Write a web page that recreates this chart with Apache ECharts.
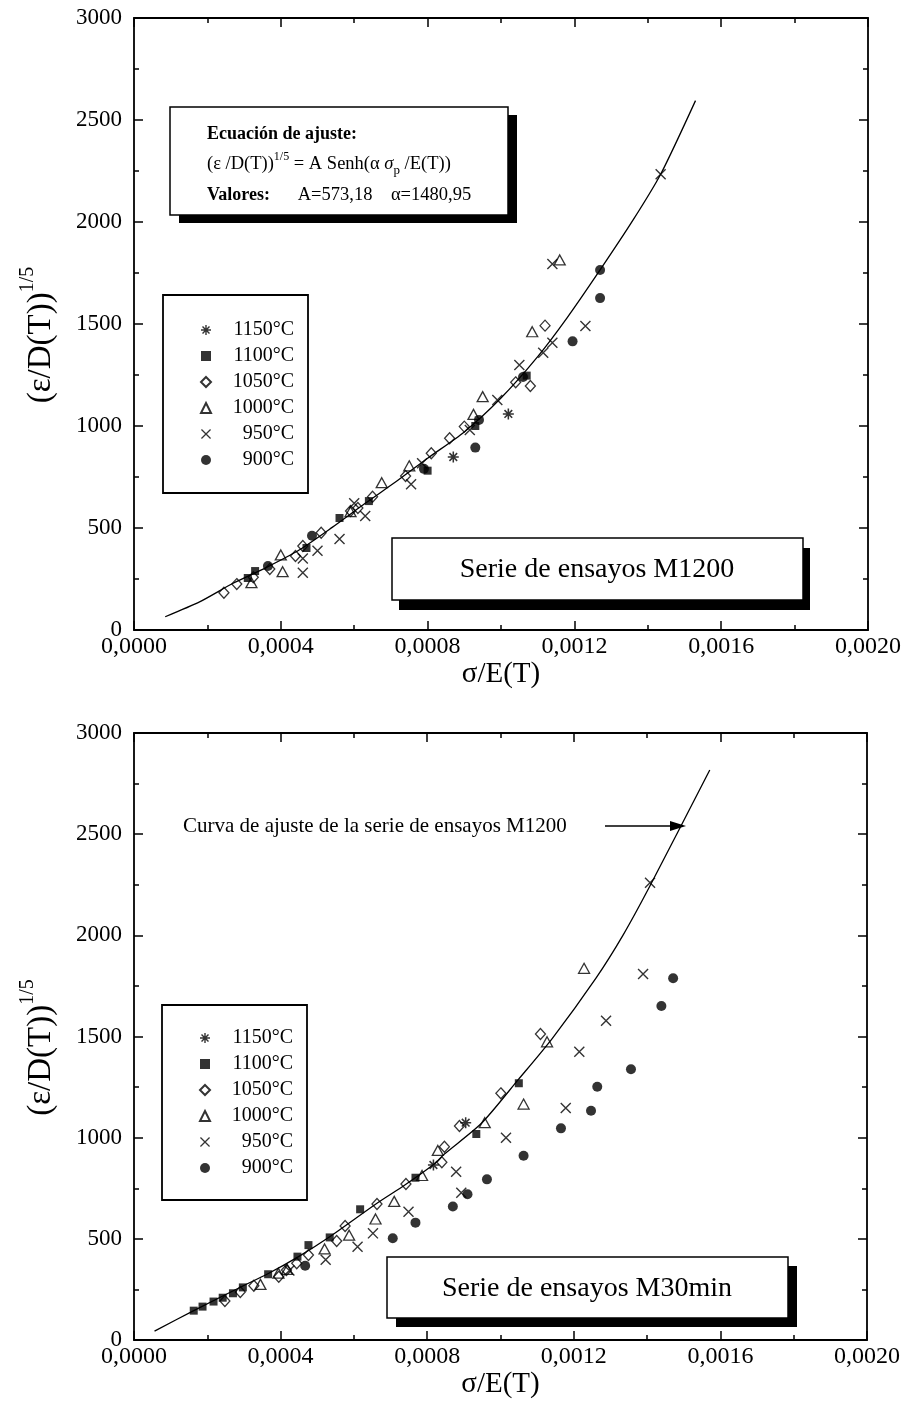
<!DOCTYPE html>
<html>
<head>
<meta charset="utf-8">
<script src="https://cdn.jsdelivr.net/npm/echarts@6/dist/echarts.min.js"></script>
<style>
  html, body { margin: 0; padding: 0; background: #fff; }
  #chart { width: 922px; height: 1419px; }
</style>
</head>
<body>
<div id="chart"></div>
<script>
const temps = ['1150°C', '1100°C', '1050°C', '1000°C', '950°C', '900°C'];

// Serie M1200 (arriba)
const m1200_1150 = [[0.00087, 848], [0.00102, 1059]];
const m1200_1100 = [[0.00031, 255], [0.00033, 289], [0.00047, 402], [0.00056, 549], [0.00064, 632], [0.0008, 781], [0.00093, 1000], [0.00107, 1247]];
const m1200_1050 = [[0.000245, 183], [0.00028, 225], [0.000325, 259], [0.00037, 299], [0.00044, 363], [0.00046, 412], [0.00051, 477], [0.00059, 583], [0.00061, 598], [0.00065, 653], [0.00074, 755], [0.00081, 866], [0.00086, 940], [0.0009, 997], [0.00104, 1214], [0.00108, 1196], [0.00112, 1492]];
const m1200_1000 = [[0.00032, 232], [0.0004, 368], [0.000405, 286], [0.00059, 580], [0.000675, 722], [0.00075, 805], [0.000925, 1057], [0.00095, 1144], [0.001085, 1462], [0.00116, 1814]];
const m1200_950 = [[0.00046, 281], [0.00046, 351], [0.0005, 389], [0.00056, 446], [0.0006, 621], [0.00063, 559], [0.000755, 714], [0.000785, 817], [0.000915, 980], [0.00099, 1127], [0.00105, 1299], [0.001115, 1359], [0.00114, 1408], [0.00123, 1490], [0.00114, 1794], [0.001435, 2234]];
const m1200_900 = [[0.000365, 314], [0.000485, 462], [0.00079, 790], [0.00093, 894], [0.00094, 1030], [0.00106, 1240], [0.001195, 1415], [0.00127, 1627], [0.00127, 1765]];
const fitTopX = [0.000085, 0.00018, 0.00027, 0.00036, 0.00045, 0.00054, 0.00063, 0.00072, 0.0008, 0.0009, 0.001, 0.0011, 0.00118, 0.00127, 0.00136, 0.001435, 0.00153];
const fitTopY = [65, 139, 229, 306, 392, 503, 621, 735, 842, 971, 1137, 1340, 1530, 1765, 2010, 2234, 2595];

// Serie M30min (abajo)
const m30_1150 = [[0.000817, 865], [0.000905, 1074]];
const m30_1100 = [[0.000163, 145], [0.000187, 165], [0.000217, 190], [0.000242, 209], [0.00027, 231], [0.000297, 260], [0.000366, 325], [0.000446, 412], [0.000476, 469], [0.000534, 507], [0.000617, 646], [0.000768, 802], [0.000934, 1018], [0.00105, 1269]];
const m30_1050 = [[0.000248, 193], [0.00029, 237], [0.000327, 268], [0.000395, 313], [0.000416, 346], [0.000444, 379], [0.000476, 420], [0.000553, 489], [0.000576, 563], [0.000663, 672], [0.000742, 771], [0.00084, 878], [0.000847, 955], [0.000888, 1058], [0.001001, 1219], [0.001109, 1512]];
const m30_1000 = [[0.000345, 275], [0.000394, 330], [0.000418, 349], [0.00052, 450], [0.000587, 518], [0.000659, 598], [0.00071, 685], [0.000786, 813], [0.000829, 937], [0.000957, 1074], [0.001063, 1166], [0.001127, 1474], [0.001228, 1837]];
const m30_950 = [[0.000424, 343], [0.000523, 397], [0.00061, 461], [0.000652, 527], [0.000749, 634], [0.000879, 832], [0.000893, 728], [0.001015, 1000], [0.001178, 1147], [0.001215, 1425], [0.001288, 1578], [0.001389, 1809], [0.001408, 2260]];
const m30_900 = [[0.000467, 367], [0.000706, 503], [0.000768, 580], [0.00087, 660], [0.00091, 720], [0.000963, 794], [0.001063, 911], [0.001165, 1046], [0.001247, 1133], [0.001264, 1252], [0.001356, 1338], [0.001439, 1651], [0.001471, 1788]];
const fitBotX = [0.000056, 0.000163, 0.000297, 0.000364, 0.000449, 0.000533, 0.000663, 0.000739, 0.000819, 0.000847, 0.000948, 0.001049, 0.001141, 0.001261, 0.001334, 0.001408, 0.001571];
const fitBotY = [44, 145, 267, 326, 412, 509, 676, 766, 870, 919, 1071, 1288, 1490, 1790, 2000, 2245, 2817];

const FONT = '"Liberation Serif", "Times New Roman", serif';
const asterisk = 'path://M-0.14,-1L0.14,-1L0.14,1L-0.14,1Z M-1,-0.14L1,-0.14L1,0.14L-1,0.14Z M-0.8,-0.6L-0.6,-0.8L0.8,0.6L0.6,0.8Z M0.6,-0.8L0.8,-0.6L-0.6,0.8L-0.8,0.6Z';
const cross = 'path://M-1,-0.82L-0.82,-1L1,0.82L0.82,1Z M0.82,-1L1,-0.82L-0.82,1L-1,0.82Z';

const open = {color: 'rgba(0,0,0,0)', borderColor: '#000', borderWidth: 1.3};
const fill = {color: '#000'};
const markStyle = {
  '1150°C': {symbol: asterisk, symbolSize: 11, itemStyle: fill},
  '1100°C': {symbol: 'rect', symbolSize: 8, itemStyle: fill},
  '1050°C': {symbol: 'diamond', symbolSize: [10, 11], itemStyle: open},
  '1000°C': {symbol: 'triangle', symbolSize: [11, 10], itemStyle: open},
  '950°C': {symbol: cross, symbolSize: 11, itemStyle: fill},
  '900°C': {symbol: 'circle', symbolSize: 10, itemStyle: fill}
};

const topSets = [m1200_1150, m1200_1100, m1200_1050, m1200_1000, m1200_950, m1200_900];
const botSets = [m30_1150, m30_1100, m30_1050, m30_1000, m30_950, m30_900];

function fmtX(v) {
  return v.toFixed(4).replace('.', ',');
}

function xAxes(gi) {
  const line = {lineStyle: {color: '#000', width: 1.8}};
  const tick = {inside: true, length: 9, lineStyle: {color: '#000', width: 1.5}};
  const minor = {show: true, splitNumber: 2, length: 5, lineStyle: {color: '#000', width: 1.5}};
  return [
    {
      gridIndex: gi, type: 'value', min: 0, max: 0.002, interval: 0.0004,
      axisLine: Object.assign({onZero: false}, line), axisTick: tick, minorTick: minor,
      splitLine: {show: false},
      axisLabel: {formatter: fmtX, fontSize: 24, color: '#000', fontFamily: FONT, margin: 5},
      name: 'σ/E(T)', nameLocation: 'middle', nameGap: 28,
      nameTextStyle: {fontSize: 29, color: '#000', fontFamily: FONT}
    },
    {
      gridIndex: gi, type: 'value', position: 'top', min: 0, max: 0.002, interval: 0.0004,
      axisLine: Object.assign({onZero: false}, line), axisTick: tick, minorTick: minor,
      splitLine: {show: false}, axisLabel: {show: false}
    }
  ];
}

function yAxes(gi) {
  const line = {lineStyle: {color: '#000', width: 1.8}};
  const tick = {inside: true, length: 9, lineStyle: {color: '#000', width: 1.5}};
  const minor = {show: true, splitNumber: 2, length: 5, lineStyle: {color: '#000', width: 1.5}};
  return [
    {
      gridIndex: gi, type: 'value', min: 0, max: 3000, interval: 500,
      axisLine: Object.assign({onZero: false}, line), axisTick: tick, minorTick: minor,
      splitLine: {show: false},
      axisLabel: {formatter: v => String(v), fontSize: 23, color: '#000', fontFamily: FONT, margin: 12},
      name: '{m|(ε/D(T))}{s|1/5}', nameLocation: 'middle', nameGap: 76,
      nameTextStyle: {
        color: '#000', fontFamily: FONT, padding: [0, 22, 0, 0],
        rich: {
          m: {fontSize: 33, lineHeight: 40, verticalAlign: 'bottom', fontFamily: FONT, color: '#000'},
          s: {fontSize: 20, lineHeight: 40, verticalAlign: 'top', fontFamily: FONT, color: '#000'}
        }
      }
    },
    {
      gridIndex: gi, type: 'value', position: 'right', min: 0, max: 3000, interval: 500,
      axisLine: Object.assign({onZero: false}, line), axisTick: tick, minorTick: minor,
      splitLine: {show: false}, axisLabel: {show: false}
    }
  ];
}

function legendFor(top, left, padTop, padBottom) {
  return {
    data: temps, orient: 'vertical', left: left, top: top,
    selectedMode: false,
    backgroundColor: '#fff', borderColor: '#000', borderWidth: 1.8,
    padding: [padTop, 14, padBottom, 37],
    itemGap: 6, itemWidth: 10, itemHeight: 10,
    formatter: n => '{t|' + n + '}',
    textStyle: {
      rich: {t: {width: 78, align: 'right', fontSize: 20, lineHeight: 20, fontFamily: FONT, color: '#000'}}
    }
  };
}

const series = [];
[topSets, botSets].forEach((sets, gi) => {
  const fx = gi === 0 ? fitTopX : fitBotX;
  const fy = gi === 0 ? fitTopY : fitBotY;
  series.push({
    type: 'line', name: 'ajuste' + gi, xAxisIndex: gi * 2, yAxisIndex: gi * 2,
    data: fx.map((x, i) => [x, fy[i]]), smooth: 0.25,
    showSymbol: false, silent: true,
    lineStyle: {color: '#000', width: 1.3}, z: 1
  });
  sets.forEach((d, k) => {
    const st = markStyle[temps[k]];
    series.push({
      type: 'scatter', name: temps[k], xAxisIndex: gi * 2, yAxisIndex: gi * 2,
      data: d, symbol: st.symbol, symbolSize: st.symbolSize, itemStyle: st.itemStyle, z: 3
    });
  });
});

function shadowBox(x, y, w, h, dx, dy) {
  return [
    {type: 'rect', shape: {x: x + dx, y: y + dy, width: w, height: h}, style: {fill: '#000'}, z: 10},
    {type: 'rect', shape: {x: x, y: y, width: w, height: h}, style: {fill: '#fff', stroke: '#000', lineWidth: 1.5}, z: 11}
  ];
}

const graphics = [].concat(
  shadowBox(170, 107, 338, 108, 9, 8),
  [
    {type: 'text', x: 207, y: 134, z: 12, style: {text: 'Ecuación de ajuste:', font: 'bold 18px ' + FONT, fill: '#000', verticalAlign: 'middle'}},
    {type: 'text', x: 207, y: 164, z: 12, style: {
      text: '{n|(ε /D(T))}{sup|1/5}{n| = A Senh(α }{i|σ}{sub|p}{n| /E(T))}', verticalAlign: 'middle',
      rich: {
        n: {fontSize: 18.5, fontFamily: FONT, fill: '#000', lineHeight: 26, verticalAlign: 'middle'},
        i: {fontSize: 18.5, fontFamily: FONT, fontStyle: 'italic', fill: '#000', lineHeight: 26, verticalAlign: 'middle'},
        sup: {fontSize: 12, fontFamily: FONT, fill: '#000', lineHeight: 26, verticalAlign: 'top'},
        sub: {fontSize: 13, fontFamily: FONT, fill: '#000', lineHeight: 26, verticalAlign: 'bottom'}
      }
    }},
    {type: 'text', x: 207, y: 195, z: 12, style: {
      text: '{b|Valores:}{n|      A=573,18    α=1480,95}', verticalAlign: 'middle',
      rich: {
        b: {fontSize: 18, fontWeight: 'bold', fontFamily: FONT, fill: '#000'},
        n: {fontSize: 18.5, fontFamily: FONT, fill: '#000'}
      }
    }}
  ],
  shadowBox(392, 538, 411, 62, 7, 10),
  [{type: 'text', x: 597, y: 570, z: 12, style: {text: 'Serie de ensayos M1200', font: '28px ' + FONT, fill: '#000', align: 'center', verticalAlign: 'middle'}}],
  shadowBox(387, 1257, 401, 61, 9, 9),
  [{type: 'text', x: 587, y: 1289, z: 12, style: {text: 'Serie de ensayos M30min', font: '28px ' + FONT, fill: '#000', align: 'center', verticalAlign: 'middle'}}],
  [
    {type: 'text', x: 183, y: 826, z: 12, style: {text: 'Curva de ajuste de la serie de ensayos M1200', font: '21px ' + FONT, fill: '#000', verticalAlign: 'middle'}},
    {type: 'line', shape: {x1: 605, y1: 826, x2: 676, y2: 826}, style: {stroke: '#000', lineWidth: 1.4}, z: 12},
    {type: 'polygon', shape: {points: [[686, 826], [670, 821], [670, 831]]}, style: {fill: '#000'}, z: 12}
  ]
);

const chart = echarts.init(document.getElementById('chart'), null, {renderer: 'canvas'});
chart.setOption({
  animation: false,
  backgroundColor: '#fff',
  textStyle: {fontFamily: FONT},
  grid: [
    {left: 134, top: 18, width: 734, height: 612},
    {left: 134, top: 733, width: 733, height: 607}
  ],
  xAxis: xAxes(0).concat(xAxes(1)),
  yAxis: yAxes(0).concat(yAxes(1)),
  legend: [legendFor(295, 163, 25, 23), legendFor(1005, 162, 23, 22)],
  graphic: graphics,
  series: series
});
</script>
</body>
</html>
